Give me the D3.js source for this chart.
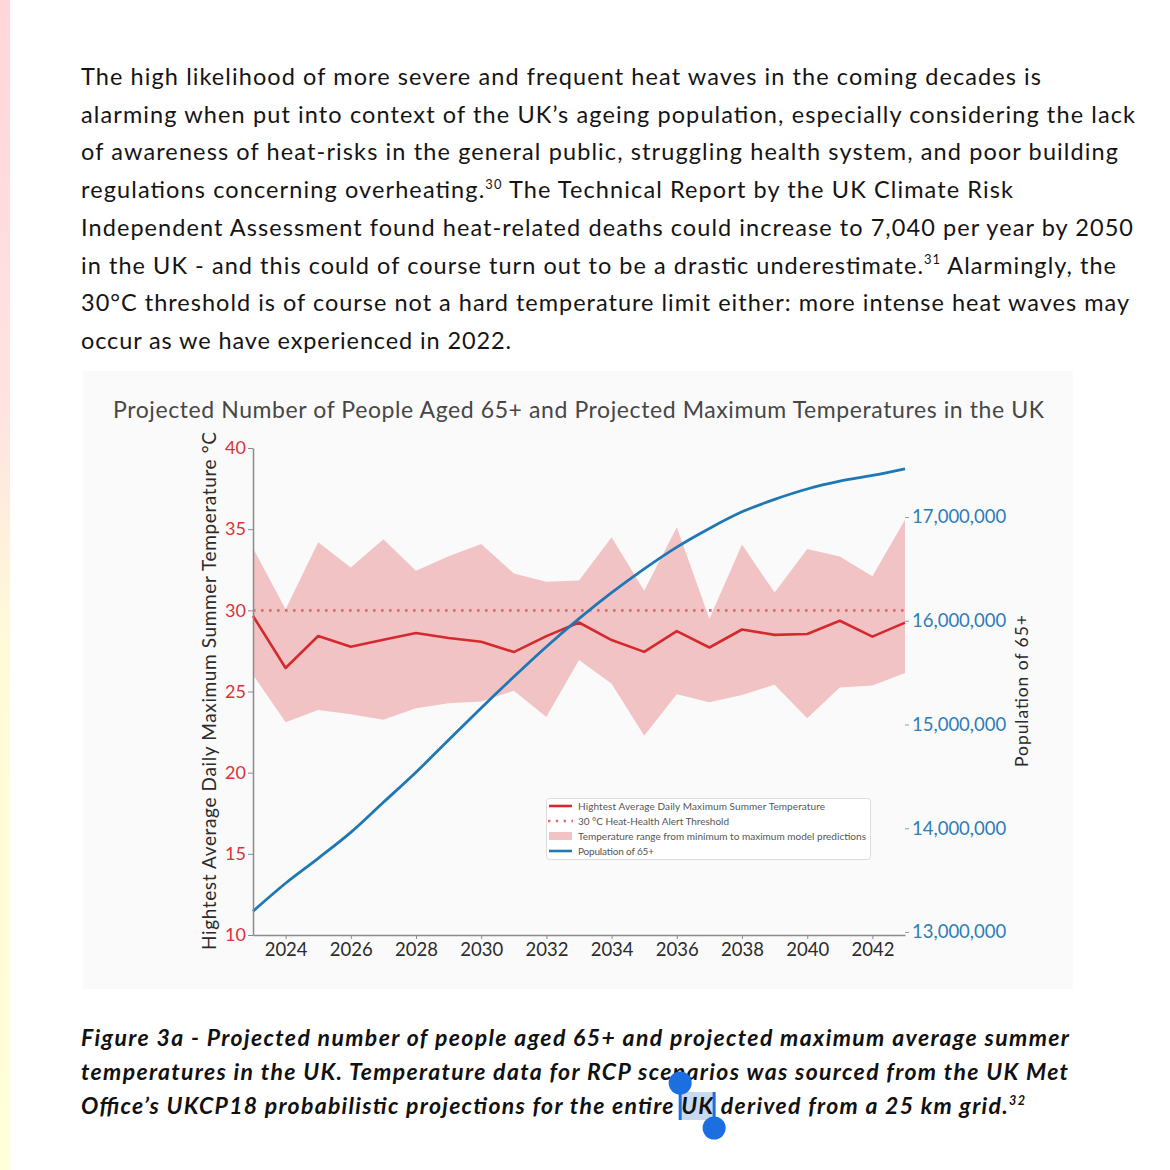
<!DOCTYPE html>
<html>
<head>
<meta charset="utf-8">
<script src="https://cdn.jsdelivr.net/npm/d3@7"></script>
<style>
  html, body { margin: 0; padding: 0; background: #ffffff; }
  svg { display: block; }
</style>
</head>
<body>
<svg id="page" width="1170" height="1170"></svg>
<script>
// ---------------- DATA ----------------
const years = [2023,2024,2025,2026,2027,2028,2029,2030,2031,2032,2033,2034,2035,2036,2037,2038,2039,2040,2041,2042,2043];
const tempMean = [29.65,26.45,28.42,27.76,28.19,28.6,28.3,28.06,27.43,28.41,29.25,28.17,27.44,28.72,27.71,28.82,28.49,28.54,29.36,28.38,29.24];
const tempMax  = [33.84,30.06,34.19,32.64,34.38,32.44,33.33,34.09,32.27,31.76,31.84,34.5,31.2,35.12,29.48,34.05,31.1,33.78,33.31,32.1,35.58];
const tempMin  = [26.03,23.1,23.86,23.6,23.26,23.97,24.28,24.38,25.04,23.43,26.94,25.48,22.27,24.83,24.34,24.79,25.41,23.35,25.25,25.37,26.14];
const population = [13.2e6,13.47e6,13.71e6,13.96e6,14.25e6,14.54e6,14.85e6,15.16e6,15.46e6,15.75e6,16.02e6,16.27e6,16.5e6,16.71e6,16.89e6,17.05e6,17.17e6,17.27e6,17.345e6,17.4e6,17.465e6];
const threshold = 30;
const tempTicks = [10,15,20,25,30,35,40];
const popTicks = [13e6,14e6,15e6,16e6,17e6];
const yearTicks = [2024,2026,2028,2030,2032,2034,2036,2038,2040,2042];

const titleText = "Projected Number of People Aged 65+ and Projected Maximum Temperatures in the UK";
const leftAxisTitle = "Hightest Average Daily Maximum Summer Temperature °C";
const rightAxisTitle = "Population of 65+";
const legendLabels = [
  "Hightest Average Daily Maximum Summer Temperature",
  "30 °C Heat-Health Alert Threshold",
  "Temperature range from minimum to maximum model predictions",
  "Population of 65+"
];

// paragraph lines: [segments], segments either string or {sup: "30"}
const paragraph = [
  ["The high likelihood of more severe and frequent heat waves in the coming decades is"],
  ["alarming when put into context of the UK’s ageing population, especially considering the lack"],
  ["of awareness of heat-risks in the general public, struggling health system, and poor building"],
  ["regulations concerning overheating.", {sup:"30"}, " The Technical Report by the UK Climate Risk"],
  ["Independent Assessment found heat-related deaths could increase to 7,040 per year by 2050"],
  ["in the UK - and this could of course turn out to be a drastic underestimate.", {sup:"31"}, " Alarmingly, the"],
  ["30°C threshold is of course not a hard temperature limit either: more intense heat waves may"],
  ["occur as we have experienced in 2022."]
];
const paraEnds = [1041,1135,1118,1013,1133,1116,1129,511];

const caption = [
  ["Figure 3a - Projected number of people aged 65+ and projected maximum average summer"],
  ["temperatures in the UK. Temperature data for RCP scenarios was sourced from the UK Met"],
  ["Office’s UKCP18 probabilistic projections for the entire UK derived from a 25 km grid.", {sup:"32"}]
];
const capEnds = [1069,1068,1025];

// ---------------- DRAW ----------------
const svg = d3.select("#page");
const FONT = "Lato, 'Noto Sans', sans-serif";

// left decorative gradient strip
const defs = svg.append("defs");
const grad = defs.append("linearGradient").attr("id","strip").attr("x1",0).attr("y1",0).attr("x2",0).attr("y2",1);
grad.append("stop").attr("offset","0%").attr("stop-color","#ffd6dc");
grad.append("stop").attr("offset","35%").attr("stop-color","#ffe3e0");
grad.append("stop").attr("offset","55%").attr("stop-color","#fffbd9");
grad.append("stop").attr("offset","100%").attr("stop-color","#ffffd8");
svg.append("rect").attr("x",0).attr("y",0).attr("width",10).attr("height",1170).attr("fill","url(#strip)");

// text block helper
function writeLines(lines, ends, opts) {
  lines.forEach((segs, i) => {
    const t = svg.append("text")
      .attr("x", opts.x)
      .attr("y", opts.y0 + i * opts.dy)
      .attr("font-family", FONT)
      .attr("font-size", opts.size)
      .attr("font-weight", opts.weight || 400)
      .attr("font-style", opts.style || "normal")
      .attr("fill", opts.color);
    let shifted = false;
    segs.forEach(s => {
      if (typeof s === "string") {
        const ts = t.append("tspan").text(s);
        if (shifted) { ts.attr("dy", opts.size * 0.4); shifted = false; }
      } else {
        t.append("tspan").attr("font-size", opts.size * 0.55).attr("dy", -opts.size * 0.4).text(s.sup);
        shifted = true;
      }
    });
    t.attr("textLength", ends[i] - opts.x).attr("lengthAdjust", "spacing");
    lines[i]._node = t.node();
  });
}

writeLines(paragraph, paraEnds, {x:81, y0:85, dy:37.7, size:23.5, color:"#141414"});
writeLines(caption, capEnds, {x:81, y0:1046, dy:34, size:23, weight:700, style:"italic", color:"#111"});

// chart panel
svg.append("rect").attr("x",83).attr("y",371).attr("width",990).attr("height",618).attr("fill","#fafafa");

const X0 = 253, X1 = 905, YT = 448, YB = 935;
const x = d3.scaleLinear().domain([2023, 2043]).range([X0, X1]);
const yT = d3.scaleLinear().domain([10, 40]).range([YB, YT]);
const yP = d3.scaleLinear().domain([12.971e6, 17.665e6]).range([YB, YT]);

// title
svg.append("text").attr("x", (113+1044)/2).attr("y", 418)
  .attr("text-anchor","middle").attr("font-family",FONT).attr("font-size",23)
  .attr("fill","#474747").attr("textLength", 1044-113).attr("lengthAdjust","spacing")
  .text(titleText);

const g = svg.append("g");

// band
g.append("path").datum(years.map((yr,i)=>({yr, lo:tempMin[i], hi:tempMax[i]})))
  .attr("d", d3.area().x(d=>x(d.yr)).y0(d=>yT(d.lo)).y1(d=>yT(d.hi)))
  .attr("fill","#f2c3c5");

// threshold dotted line
g.append("line").attr("x1",X0).attr("x2",X1).attr("y1",yT(threshold)).attr("y2",yT(threshold))
  .attr("stroke","#e46a70").attr("stroke-width",2.6).attr("stroke-dasharray","2.6,5.4");

// mean line
g.append("path").datum(years.map((yr,i)=>[yr,tempMean[i]]))
  .attr("d", d3.line().x(d=>x(d[0])).y(d=>yT(d[1])))
  .attr("fill","none").attr("stroke","#d42a2e").attr("stroke-width",2.6).attr("stroke-linejoin","round");

// population line
g.append("path").datum(years.map((yr,i)=>[yr,population[i]]))
  .attr("d", d3.line().curve(d3.curveMonotoneX).x(d=>x(d[0])).y(d=>yP(d[1])))
  .attr("fill","none").attr("stroke","#1f77b4").attr("stroke-width",2.8);

// left axis
const axL = svg.append("g").attr("transform",`translate(${X0},0)`)
  .call(d3.axisLeft(yT).tickValues(tempTicks).tickSize(5).tickSizeOuter(0).tickPadding(2));
axL.select(".domain").attr("stroke","#8a8a8a").attr("stroke-width",1.5);
axL.selectAll(".tick line").attr("stroke","#8a8a8a");
axL.selectAll(".tick text").attr("fill","#d9323a").attr("font-family",FONT).attr("font-size",18);

// bottom axis
const axB = svg.append("g").attr("transform",`translate(0,${YB})`)
  .call(d3.axisBottom(x).tickValues(yearTicks).tickFormat(d3.format("d")).tickSize(4).tickSizeOuter(0).tickPadding(4));
axB.select(".domain").attr("stroke","#8a8a8a").attr("stroke-width",1.5);
axB.selectAll(".tick line").attr("stroke","#8a8a8a");
axB.selectAll(".tick text").attr("fill","#2b2b2b").attr("font-family",FONT).attr("font-size",18.5);

// right axis
const axR = svg.append("g").attr("transform",`translate(${X1},0)`)
  .call(d3.axisRight(yP).tickValues(popTicks).tickFormat(d3.format(",")).tickSize(4).tickSizeOuter(0).tickPadding(3));
axR.select(".domain").remove();
axR.selectAll(".tick line").attr("stroke","#7aa7cc");
axR.selectAll(".tick text").attr("fill","#2f7db8").attr("font-family",FONT).attr("font-size",18.5);

// axis titles
svg.append("text").attr("transform",`translate(216,${(432+950)/2}) rotate(-90)`)
  .attr("text-anchor","middle").attr("font-family",FONT).attr("font-size",19).attr("fill","#2b2b2b")
  .attr("textLength", 950-432).attr("lengthAdjust","spacing").text(leftAxisTitle);
svg.append("text").attr("transform",`translate(1028,${(615+767)/2}) rotate(-90)`)
  .attr("text-anchor","middle").attr("font-family",FONT).attr("font-size",17.5).attr("fill","#2b2b2b")
  .attr("textLength", 767-615).attr("lengthAdjust","spacing").text(rightAxisTitle);

// legend
const lg = svg.append("g");
lg.append("rect").attr("x",546.5).attr("y",798.5).attr("width",324).attr("height",61).attr("rx",3)
  .attr("fill","#ffffff").attr("stroke","#dcdcdc");
const rowsY = [806, 821, 836, 851];
lg.append("line").attr("x1",549).attr("x2",572).attr("y1",rowsY[0]).attr("y2",rowsY[0]).attr("stroke","#d42a2e").attr("stroke-width",2.6);
lg.append("line").attr("x1",548).attr("x2",573).attr("y1",rowsY[1]).attr("y2",rowsY[1]).attr("stroke","#e46a70").attr("stroke-width",2.4).attr("stroke-dasharray","2.4,5.4");
lg.append("rect").attr("x",549).attr("y",rowsY[2]-4).attr("width",23).attr("height",8).attr("fill","#f2c3c5");
lg.append("line").attr("x1",549).attr("x2",572).attr("y1",rowsY[3]).attr("y2",rowsY[3]).attr("stroke","#1f77b4").attr("stroke-width",2.6);
const legEnds = [825, 729, 866, 654];
legendLabels.forEach((s,i)=>{
  lg.append("text").attr("x",578).attr("y",rowsY[i]).attr("dy","0.35em")
    .attr("font-family",FONT).attr("font-size",10).attr("fill","#555")
    .attr("textLength", legEnds[i]-578).attr("lengthAdjust","spacing").text(s);
});

// text selection highlight on "UK" in caption line 3
const capNode = caption[2]._node;
const full = capNode.textContent;
const idx = full.indexOf("entire UK") + 7;
let sx = 678, ex = 716;
try {
  sx = capNode.getStartPositionOfChar(idx).x - 1;
  ex = capNode.getEndPositionOfChar(idx+1).x + 1;
} catch(e) {}
svg.insert("rect", "text").attr("x",sx).attr("y",1092).attr("width",ex-sx).attr("height",28).attr("fill","#c6d9ef");
svg.append("rect").attr("x",sx-1.5).attr("y",1086).attr("width",3).attr("height",34).attr("fill","#1b6fe0");
svg.append("circle").attr("cx",sx).attr("cy",1083).attr("r",11.5).attr("fill","#1b6fe0");
svg.append("rect").attr("x",ex-1.5).attr("y",1092).attr("width",3).attr("height",34).attr("fill","#1b6fe0");
svg.append("circle").attr("cx",ex).attr("cy",1128).attr("r",11.5).attr("fill","#1b6fe0");
</script>
</body>
</html>
